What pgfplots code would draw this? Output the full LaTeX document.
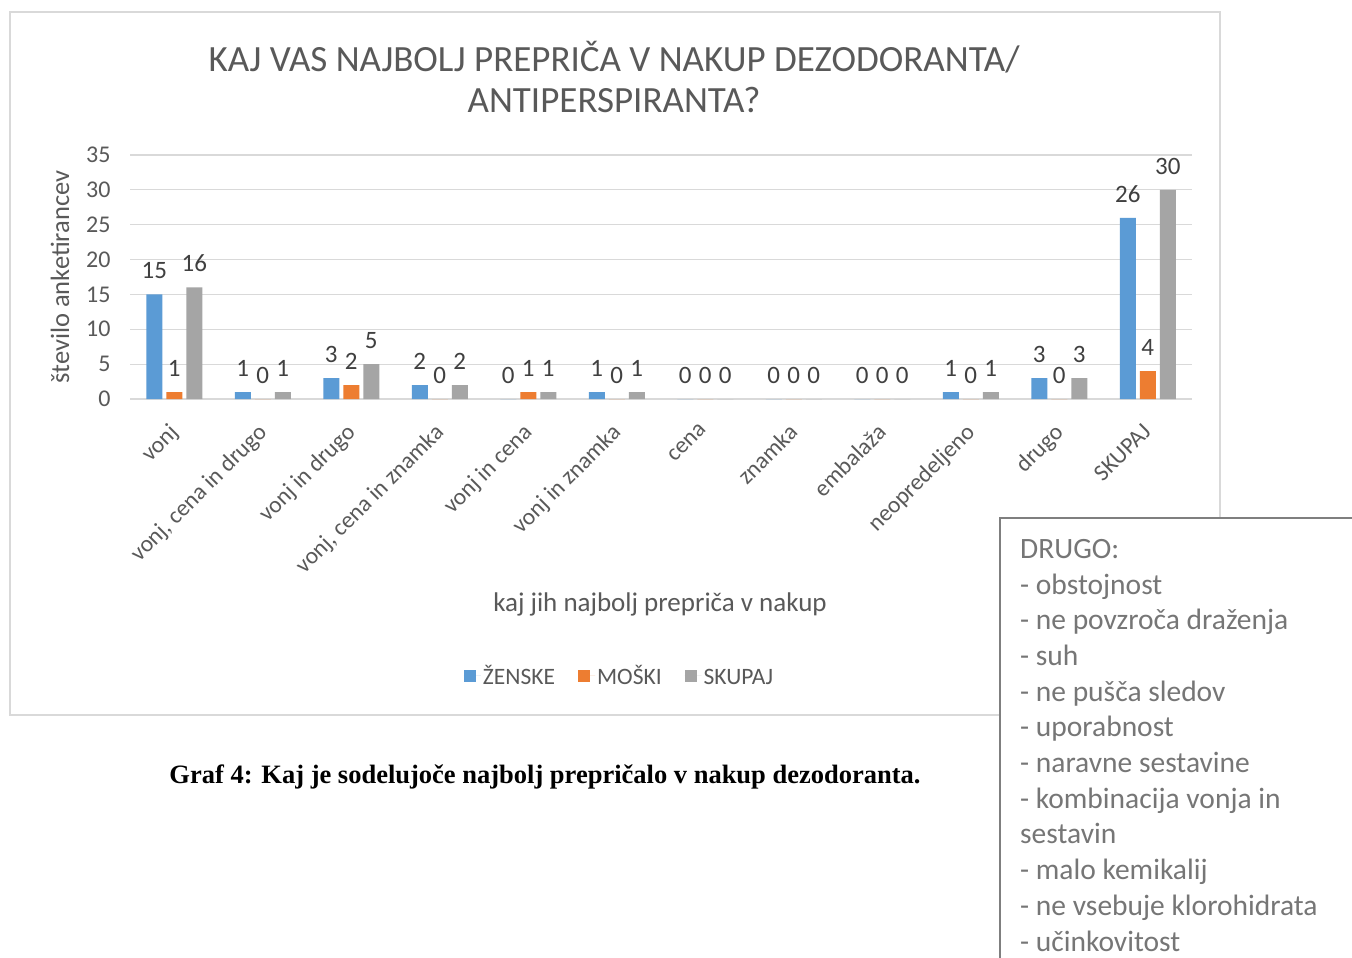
\documentclass[border=0pt]{standalone}
\usepackage{fontspec}
\setmainfont{Carlito}
\newfontfamily\tnr{Liberation Serif}
\usepackage{pgfplots}
\pgfplotsset{compat=1.18}
\definecolor{cz}{HTML}{5B9BD5}
\definecolor{cm}{HTML}{ED7D31}
\definecolor{cs}{HTML}{A5A5A5}
\definecolor{txt}{HTML}{595959}
\definecolor{lbl}{HTML}{404040}
\definecolor{gridc}{HTML}{D9D9D9}
\definecolor{boxc}{HTML}{7F7F7F}
\definecolor{boxt}{HTML}{767676}
\begin{document}
\begin{tikzpicture}
\useasboundingbox (0,0) rectangle (1352pt,-958pt);
\fill[white] (0,0) rectangle (1352pt,-958pt);
\draw[gridc, line width=1.5pt] (10pt,-12pt) rectangle (1220pt,-715pt);
\node[txt, font=\fontsize{37}{43}\selectfont] at (614pt,-57pt) {KAJ VAS NAJBOLJ PREPRIČA V NAKUP DEZODORANTA/};
\node[txt, font=\fontsize{37}{43}\selectfont] at (614pt,-100pt) {ANTIPERSPIRANTA?};
\begin{axis}[
  at={(130pt,-399pt)}, anchor=south west,
  scale only axis, width=1062pt, height=244pt,
  xmin=-0.5, xmax=11.5, ymin=0, ymax=35,
  ybar=4pt, bar width=16pt,
  axis line style={draw=none},
  tick style={draw=none},
  ymajorgrids, major grid style={gridc, line width=1.2pt},
  ytick={0,5,...,35},
  xtick={0,...,11},
  xticklabels={vonj,{vonj, cena in drugo},vonj in drugo,{vonj, cena in znamka},vonj in cena,vonj in znamka,cena,znamka,embalaža,neopredeljeno,drugo,SKUPAJ},
  xticklabel style={xshift=-6.5pt, yshift=-14pt, rotate=45, anchor=north east, font=\fontsize{23.5}{26}\selectfont, text=txt},
  yticklabel style={font=\fontsize{24}{26}\selectfont, text=txt, xshift=-16pt},
  /pgf/number format/assume math mode=true,
  nodes near coords,
  nodes near coords style={font=\fontsize{25}{28}\selectfont, text=lbl, anchor=south, yshift=12pt},
  legend style={at={(0.461,-1.135)}, anchor=center, draw=none, legend columns=3, font=\fontsize{23.5}{26}\selectfont, text=txt, /tikz/every even column/.append style={column sep=21pt}},
  legend image code/.code={\fill[#1] (0pt,-6pt) rectangle (12pt,6pt); \path (0pt,0pt) -- (17pt,0pt);},
]
\addplot[fill=cz, draw=none] coordinates {(0,15) (1,1) (2,3) (3,2) (4,0) (5,1) (6,0) (7,0) (8,0) (9,1) (10,3) (11,26)};
\addplot[fill=cm, draw=none] coordinates {(0,1) (1,0) (2,2) (3,0) (4,1) (5,0) (6,0) (7,0) (8,0) (9,0) (10,0) (11,4)};
\addplot[fill=cs, draw=none] coordinates {(0,16) (1,1) (2,5) (3,2) (4,1) (5,1) (6,0) (7,0) (8,0) (9,1) (10,3) (11,30)};
\legend{ŽENSKE, MOŠKI, {\vphantom{Ž}SKUPAJ}}
\end{axis}
\node[txt, rotate=90, font=\fontsize{26.5}{30}\selectfont] at (60pt,-277pt) {število anketirancev};
\node[txt, font=\fontsize{27}{30}\selectfont] at (660pt,-604pt) {kaj jih najbolj prepriča v nakup};
\node[font=\tnr\bfseries\fontsize{26.5}{30}\selectfont] at (545pt,-777pt) {Graf 4: Kaj je sodelujoče najbolj prepričalo v nakup dezodoranta.};
\draw[boxc, line width=2pt, fill=white] (1000pt,-518pt) rectangle (1400pt,-1000pt);
\node[boxt, anchor=north west, align=left, inner sep=0pt, font=\fontsize{29.5}{35.7}\selectfont] at (1020pt,-539pt) {DRUGO:\\- obstojnost\\- ne povzroča draženja\\- suh\\- ne pušča sledov\\- uporabnost\\- naravne sestavine\\- kombinacija vonja in\\sestavin\\- malo kemikalij\\- ne vsebuje klorohidrata\\- učinkovitost};
\end{tikzpicture}
\end{document}
